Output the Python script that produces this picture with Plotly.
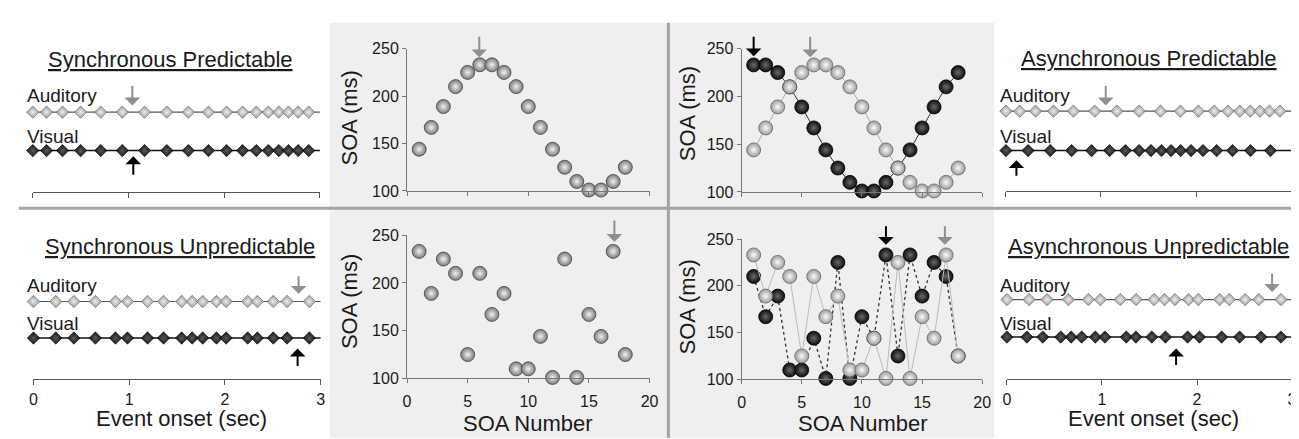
import numpy as np
import plotly.graph_objects as go

W, H = 1299, 439
def fx(p): return p / W
def fy(p): return 1 - p / H

FONT = "Liberation Sans, Arial, sans-serif"

# ---------------- data ----------------
soa_number = list(range(1, 19))
sync_pred_soa = [144, 167, 189, 210, 225, 233, 233, 225, 210, 189, 167, 144, 125, 110, 101, 101, 110, 125]
async_pred_aud_soa = [144, 167, 189, 210, 225, 233, 233, 225, 210, 189, 167, 144, 125, 110, 101, 101, 110, 125]
async_pred_vis_soa = [233, 233, 225, 210, 189, 167, 144, 125, 110, 101, 101, 110, 125, 144, 167, 189, 210, 225]
sync_unpred_soa = [233, 189, 225, 210, 125, 210, 167, 189, 110, 110, 144, 101, 225, 101, 167, 144, 233, 125]
async_unpred_aud_soa = [233, 189, 225, 210, 125, 210, 167, 189, 110, 110, 144, 101, 225, 101, 167, 144, 233, 125]
async_unpred_vis_soa = [210, 167, 189, 110, 110, 144, 101, 225, 101, 167, 144, 233, 125, 233, 189, 225, 210, 125]

time_ticks = [0, 1, 2, 3]
soa_ticks = [0, 5, 10, 15, 20]
soa_ms_ticks = [100, 150, 200, 250]
rows = ["Visual", "Auditory"]

def onsets(soa):
    return [0.0] + list(np.cumsum(soa) / 1000.0)

fig = go.Figure()

# ---------------- timeline panels ----------------
timelines = [
    (1, 21, 311, 100, 140, 183, False, sync_pred_soa, sync_pred_soa),
    (4, 1004, 1292, 99, 140, 182, False, async_pred_aud_soa, async_pred_vis_soa),
    (5, 21.7, 311.7, 297, 335, 378, True, sync_unpred_soa, sync_unpred_soa),
    (8, 1005, 1293, 295, 334, 378, True, async_unpred_aud_soa, async_unpred_vis_soa),
]

layout_axes = {}
for idx, x0, x3, ya, yv, yax, lab, aud, vis in timelines:
    sfx = "" if idx == 1 else str(idx)
    d = yv - ya
    layout_axes["xaxis" + sfx] = dict(
        domain=[fx(x0), fx(x3)], range=[0, 3], anchor="free", position=fy(yax),
        showline=True, linecolor="#555", linewidth=1, ticks="outside", ticklen=5,
        tickcolor="#555", tickvals=time_ticks, showticklabels=lab, showgrid=False,
        zeroline=False, tickfont=dict(family=FONT, size=16, color="#1a1a1a"),
        ticklabelstandoff=0)
    layout_axes["yaxis" + sfx] = dict(
        domain=[fy(yv + 0.5 * d), fy(ya - 0.5 * d)], type="category",
        categoryarray=rows, range=[-0.5, 1.5], visible=False,
        anchor="x" + sfx)
    xa = "x" + sfx
    yaa = "y" + sfx
    ta = onsets(aud)
    tv = onsets(vis)
    fig.add_trace(go.Scatter(
        x=ta, y=["Auditory"] * len(ta), mode="lines+markers", xaxis=xa, yaxis=yaa,
        line=dict(color="#555", width=1.2), cliponaxis=False, showlegend=False,
        marker=dict(symbol="diamond", size=9.5, color="#9a9a9a",
                    gradient=dict(type="radial", color="#ececec"),
                    line=dict(color="#6e6e6e", width=0.7))))
    fig.add_trace(go.Scatter(
        x=tv, y=["Visual"] * len(tv), mode="lines+markers", xaxis=xa, yaxis=yaa,
        line=dict(color="#111", width=1.5), cliponaxis=False, showlegend=False,
        marker=dict(symbol="diamond", size=9.5, color="#151515",
                    gradient=dict(type="radial", color="#5a5a5a"),
                    line=dict(color="#000", width=0.6))))

# ---------------- SOA scatter panels ----------------
scatters = [
    (2, 399, 644, 34, 182, False),
    (3, 737, 980, 34, 183, False),
    (6, 399, 644, 228, 377, True),
    (7, 737, 980, 232, 378, True),
]
for idx, x0, x20, y250, y100, lab in scatters:
    sfx = str(idx)
    layout_axes["xaxis" + sfx] = dict(
        domain=[fx(x0), fx(x20)], range=[0, 20], anchor="y" + sfx,
        showline=True, linecolor="#777", linewidth=1, ticks="outside", ticklen=4,
        tickcolor="#777", tickvals=soa_ticks, showticklabels=lab, showgrid=False,
        zeroline=False, tickfont=dict(family=FONT, size=16, color="#1a1a1a"),
        ticklabelstandoff=4)
    layout_axes["yaxis" + sfx] = dict(
        domain=[fy(y100), fy(y250)], range=[100, 250], anchor="x" + sfx,
        showline=True, linecolor="#777", linewidth=1, ticks="outside", ticklen=4,
        tickcolor="#777", tickvals=soa_ms_ticks, showgrid=False, zeroline=False,
        tickfont=dict(family=FONT, size=16, color="#1a1a1a"))

def sphere(color, center, edge):
    return dict(symbol="circle", size=14, color=color,
                gradient=dict(type="radial", color=center),
                line=dict(color=edge, width=0.8))

gray_sync = sphere("#7a7a7a", "#f2f2f2", "#444")
gray_async = sphere("#9c9c9c", "#fbfbfb", "#666")
black_async = sphere("#0d0d0d", "#6a6a6a", "#000")

fig.add_trace(go.Scatter(x=soa_number, y=sync_pred_soa, mode="markers", xaxis="x2", yaxis="y2",
                         marker=gray_sync, cliponaxis=False, showlegend=False))
fig.add_trace(go.Scatter(x=soa_number, y=async_pred_vis_soa, mode="lines+markers", xaxis="x3", yaxis="y3",
                         line=dict(color="#333", width=1), marker=black_async, cliponaxis=False, showlegend=False))
fig.add_trace(go.Scatter(x=soa_number, y=async_pred_aud_soa, mode="lines+markers", xaxis="x3", yaxis="y3",
                         line=dict(color="#aaa", width=1), marker=gray_async, cliponaxis=False, showlegend=False))
fig.add_trace(go.Scatter(x=soa_number, y=sync_unpred_soa, mode="markers", xaxis="x6", yaxis="y6",
                         marker=gray_sync, cliponaxis=False, showlegend=False))
fig.add_trace(go.Scatter(x=soa_number, y=async_unpred_vis_soa, mode="lines+markers", xaxis="x7", yaxis="y7",
                         line=dict(color="#333", width=1.3, dash="dot"), marker=black_async, cliponaxis=False, showlegend=False))
fig.add_trace(go.Scatter(x=soa_number, y=async_unpred_aud_soa, mode="lines+markers", xaxis="x7", yaxis="y7",
                         line=dict(color="#bbb", width=1), marker=gray_async, cliponaxis=False, showlegend=False))

# ---------------- annotations ----------------
ann = []
def text(x, y, s, size, anchor="center", angle=0, color="#1a1a1a"):
    ann.append(dict(x=fx(x), y=fy(y), xref="paper", yref="paper", text=s, showarrow=False,
                    xanchor=anchor, yanchor="middle", textangle=angle,
                    font=dict(family=FONT, size=size, color=color)))

text(160, 45, "<u>Synchronous Predictable</u>", 22)
text(1148, 44, "<u>Asynchronous Predictable</u>", 22)
text(170, 240, "<u>Synchronous Unpredictable</u>", 22)
text(1148, 240, "<u>Asynchronous Unpredictable</u>", 22)
for xl, ya, yv in [(13, 83, 125), (996, 83, 125), (13, 280, 320), (996, 280, 320)]:
    text(xl, ya, "Auditory", 19, anchor="left")
    text(xl, yv, "Visual", 19, anchor="left")
text(171, 419, "Event onset (sec)", 22)
text(1153, 419, "Event onset (sec)", 22)
text(521, 424, "SOA Number", 22)
text(860, 424, "SOA Number", 22)
text(341, 106, "SOA (ms)", 22, angle=-90)
text(341, 297, "SOA (ms)", 22, angle=-90)
text(682, 102, "SOA (ms)", 22, angle=-90)
text(682, 303, "SOA (ms)", 22, angle=-90)

def arrow(xref, x, tip_py, tail_py, color):
    ann.append(dict(x=x, y=fy(tip_py), xref=xref, yref="paper", text="", showarrow=True,
                    ax=0, ay=tail_py - tip_py, arrowhead=1, arrowsize=1.3, arrowwidth=2,
                    arrowcolor=color))

GA, BA = "#8f8f8f", "#000"
arrow("x", 1.04, 93, 72, GA)
arrow("x", 1.05, 146, 166, BA)
arrow("x2", 5.96, 43, 21, GA)
arrow("x3", 1.0, 42, 21, BA)
arrow("x3", 5.7, 43, 21, GA)
arrow("x4", 1.05, 93, 72, GA)
arrow("x4", 0.11, 150, 167, BA)
arrow("x5", 2.77, 289, 270, GA)
arrow("x5", 2.76, 346, 365, BA)
arrow("x6", 17.1, 235, 212, GA)
arrow("x7", 12.0, 238, 218, BA)
arrow("x7", 16.9, 238, 218, GA)
arrow("x8", 2.79, 287, 267, GA)
arrow("x8", 1.78, 346, 364, BA)

# ---------------- background & dividers ----------------
shapes = [
    dict(type="rect", xref="paper", yref="paper", x0=fx(321), x1=fx(992), y0=0, y1=fy(7),
         fillcolor="#efefef", line=dict(width=0), layer="below"),
    dict(type="line", xref="paper", yref="paper", x0=fx(7), x1=1, y0=fy(200), y1=fy(200),
         line=dict(color="#a3a3a3", width=3), layer="below"),
    dict(type="line", xref="paper", yref="paper", x0=fx(663), x1=fx(663), y0=0, y1=fy(7),
         line=dict(color="#a3a3a3", width=3), layer="below"),
]

fig.update_layout(
    width=W, height=H, margin=dict(l=0, r=0, t=0, b=0),
    paper_bgcolor="white", plot_bgcolor="rgba(0,0,0,0)",
    showlegend=False, annotations=ann, shapes=shapes,
    font=dict(family=FONT, color="#1a1a1a"),
    **layout_axes)

fig.write_html("out.html")
